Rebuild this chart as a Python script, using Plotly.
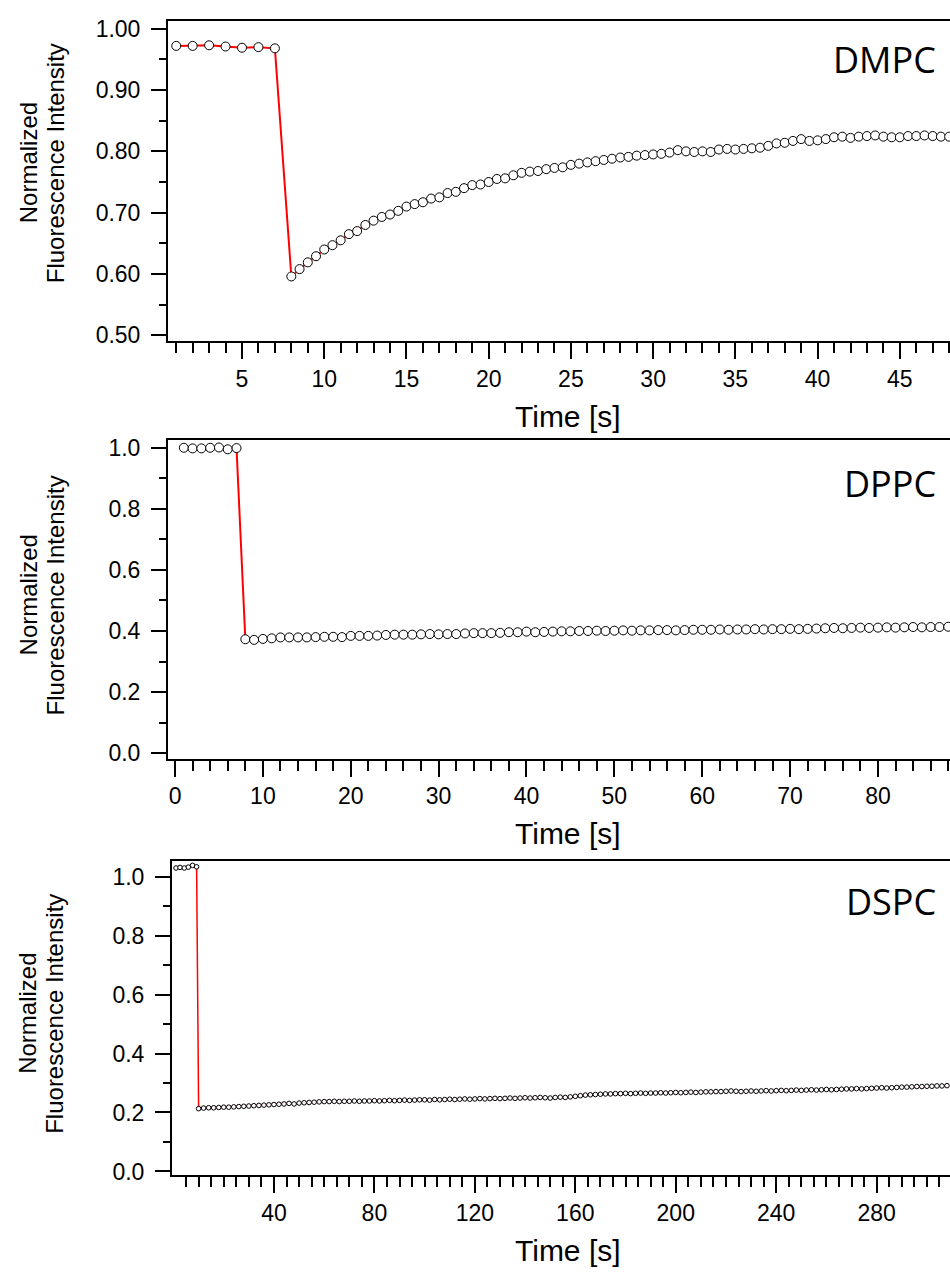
import numpy as np
import plotly.graph_objects as go

# ---------------- data ----------------
# DMPC: 1 s sampling before injection, 0.5 s after
dmpc_pre_t = [1, 2, 3, 4, 5, 6, 7]
dmpc_pre = [0.972, 0.972, 0.973, 0.971, 0.969, 0.970, 0.968]
dmpc_post_start, dmpc_post_step = 8.0, 0.5
dmpc_post = [0.596, 0.608, 0.619, 0.629, 0.640, 0.647, 0.655, 0.665, 0.670, 0.680,
             0.687, 0.693, 0.697, 0.703, 0.710, 0.714, 0.717, 0.723, 0.725, 0.732,
             0.734, 0.740, 0.745, 0.746, 0.750, 0.755, 0.756, 0.761, 0.765, 0.767,
             0.768, 0.771,
             0.773, 0.774, 0.778, 0.780, 0.782, 0.784, 0.786, 0.788, 0.790, 0.791,
             0.793, 0.794, 0.795, 0.796, 0.798, 0.802, 0.800, 0.799, 0.800, 0.799,
             0.803, 0.804, 0.803, 0.804, 0.805, 0.806, 0.809, 0.813, 0.814, 0.817,
             0.820, 0.817, 0.818, 0.820, 0.823, 0.824, 0.822, 0.824, 0.825, 0.826,
             0.824, 0.823, 0.823, 0.825, 0.825, 0.826, 0.825, 0.824, 0.824]

# DPPC: 1 s sampling
dppc_pre_t = [1, 2, 3, 4, 5, 6, 7]
dppc_pre = [1.000, 0.998, 0.998, 1.000, 1.001, 0.995, 0.999]
dppc_post_start, dppc_post_step = 8.0, 1.0
dppc_post = [0.373, 0.371, 0.374, 0.376, 0.379, 0.379, 0.379, 0.379, 0.380, 0.381,
             0.381, 0.380, 0.384, 0.384, 0.384, 0.385, 0.387, 0.388, 0.388, 0.388,
             0.389, 0.390, 0.389, 0.390, 0.390, 0.392, 0.393, 0.393, 0.393, 0.394,
             0.396, 0.396, 0.398, 0.396, 0.397,
             0.398, 0.399, 0.399, 0.400, 0.400, 0.401, 0.400, 0.401, 0.402, 0.401,
             0.402, 0.402, 0.403, 0.403, 0.402, 0.403, 0.404, 0.404, 0.404, 0.405,
             0.404, 0.405, 0.405, 0.406, 0.405, 0.406, 0.406, 0.407, 0.406, 0.407,
             0.408, 0.409, 0.410, 0.409, 0.410, 0.411, 0.410, 0.411, 0.412, 0.411,
             0.412, 0.413, 0.412, 0.413, 0.413, 0.414]

# DSPC
dspc_pre_t = [1.0, 2.6, 4.3, 5.9, 7.6, 9.2]
dspc_pre = [1.029, 1.031, 1.029, 1.032, 1.038, 1.033]
dspc_post_start, dspc_post_step = 10.0, 2.0
dspc_post = [0.213, 0.215, 0.216, 0.216, 0.217, 0.218, 0.218, 0.219, 0.220, 0.221,
             0.222, 0.223, 0.224, 0.225, 0.226, 0.227, 0.228, 0.229, 0.231, 0.229,
             0.232, 0.233, 0.234, 0.235, 0.236, 0.237, 0.237, 0.238, 0.237, 0.238,
             0.238, 0.239, 0.238, 0.239, 0.239, 0.240, 0.239, 0.240, 0.241, 0.240,
             0.241, 0.242, 0.241, 0.242, 0.243, 0.243, 0.242, 0.244, 0.243, 0.244,
             0.245, 0.244, 0.245, 0.246, 0.245, 0.246, 0.247, 0.246, 0.247, 0.248,
             0.247, 0.248, 0.249, 0.248, 0.249, 0.250, 0.249, 0.250, 0.251, 0.250,
             0.249, 0.251, 0.252, 0.251, 0.253, 0.255, 0.257, 0.259, 0.260, 0.261,
             0.262, 0.263, 0.263, 0.264, 0.264, 0.265, 0.264, 0.265, 0.266, 0.265,
             0.266, 0.266, 0.267, 0.266, 0.267, 0.268, 0.267, 0.268, 0.269, 0.268,
             0.269, 0.270, 0.270, 0.271, 0.271, 0.272, 0.273, 0.272, 0.271, 0.272,
             0.273, 0.272, 0.273, 0.274, 0.273, 0.274, 0.275, 0.274, 0.275, 0.276,
             0.275, 0.276, 0.277, 0.276, 0.277, 0.278, 0.277, 0.278, 0.279, 0.280,
             0.280, 0.281, 0.280, 0.281, 0.282, 0.283, 0.284, 0.283, 0.284, 0.285,
             0.286, 0.286, 0.287, 0.288, 0.288, 0.289, 0.289, 0.290, 0.290, 0.291]

labels = ["DMPC", "DPPC", "DSPC"]
x_title = "Time [s]"
y_title_1 = "Normalized"
y_title_2 = "Fluorescence Intensity"


def series(pre_t, pre, start, step, post):
    t_post = start + step * np.arange(len(post))
    return list(pre_t) + list(t_post), list(pre) + list(post)


sets = [
    series(dmpc_pre_t, dmpc_pre, dmpc_post_start, dmpc_post_step, dmpc_post),
    series(dppc_pre_t, dppc_pre, dppc_post_start, dppc_post_step, dppc_post),
    series(dspc_pre_t, dspc_pre, dspc_post_start, dspc_post_step, dspc_post),
]

# ---------------- layout helpers ----------------
W, H = 950, 1276


def px(x):
    return x / W


def py(y):
    return 1 - y / H


FONT = "Liberation Sans, Arial, sans-serif"
TICKFONT = dict(family=FONT, size=23, color="black")

fig = go.Figure()

marker_sizes = [9, 9, 4.6]
line_widths = [2, 2, 1.5]
for i, (t, v) in enumerate(sets):
    sfx = "" if i == 0 else str(i + 1)
    fig.add_trace(go.Scatter(
        x=t, y=v, mode="lines+markers",
        line=dict(color="#ff0000", width=line_widths[i]),
        marker=dict(symbol="circle", size=marker_sizes[i], color="white",
                    line=dict(color="black", width=1)),
        xaxis="x" + sfx, yaxis="y" + sfx, showlegend=False,
        hoverinfo="x+y",
    ))

# panel geometry (pixels): left, top, bottom
panels = [
    dict(left=168, top=16, bottom=340, xr=[0.5, 48.05], yr=[0.4903, 1.0129],
         xd=5, xmin=1, yd=0.1, ymin=0.05, yfmt=".2f", xvals=None),
    dict(left=168, top=440, bottom=762, xr=[-0.8, 88.2], yr=[-0.018, 1.0249],
         xd=10, xmin=2, yd=0.2, ymin=0.1, yfmt=".1f", xvals=None),
    dict(left=172, top=865, bottom=1183, xr=[-0.6, 309.2], yr=[-0.012, 1.0544],
         xd=40, xmin=5, yd=0.2, ymin=0.1, yfmt=".1f",
         xvals=[40, 80, 120, 160, 200, 240, 280]),
]

axis_common = dict(showline=True, linecolor="black", linewidth=2,
                   ticks="outside", tickcolor="black", tickwidth=2,
                   showgrid=False, zeroline=False, tickfont=TICKFONT)

for i, p in enumerate(panels):
    sfx = "" if i == 0 else str(i + 1)
    xa = dict(axis_common, domain=[px(p["left"]), 1.0], range=p["xr"],
              anchor="y" + sfx, ticklen=16, mirror=True)
    if p["xvals"] is None:
        xa.update(tickmode="linear", tick0=0, dtick=p["xd"],
                  minor=dict(tickmode="linear", tick0=0, dtick=p["xmin"],
                             ticks="outside", ticklen=10, tickwidth=2,
                             tickcolor="black"))
    else:
        minor_vals = [m for m in range(5, 310, 5)]
        xa.update(tickmode="array", tickvals=p["xvals"],
                  minor=dict(tickmode="array", tickvals=minor_vals,
                             ticks="outside", ticklen=10, tickwidth=2,
                             tickcolor="black"))
    ya = dict(axis_common, domain=[py(p["bottom"]), py(p["top"])], range=p["yr"],
              anchor="x" + sfx, ticklen=15, tickmode="linear", tick0=0,
              dtick=p["yd"], tickformat=p["yfmt"], ticklabelstandoff=6,
              minor=dict(tickmode="linear", tick0=0, dtick=p["ymin"],
                         ticks="outside", ticklen=7, tickwidth=2,
                         tickcolor="black"))
    fig.layout["xaxis" + sfx] = xa
    fig.layout["yaxis" + sfx] = ya

annotations = []
label_y = [55, 484, 906]
xtitle_y = [416, 838, 1259]
ytitle_c = [160, 597, 1020]
for i in range(3):
    annotations.append(dict(text=labels[i], xref="paper", yref="paper",
                            x=px(938), y=py(label_y[i]), xanchor="right",
                            yanchor="middle", showarrow=False,
                            font=dict(family="Open Sans, sans-serif", size=36,
                                      color="black")))
    annotations.append(dict(text=x_title, xref="paper", yref="paper",
                            x=px(568), y=py(xtitle_y[i]), xanchor="center",
                            yanchor="middle", showarrow=False,
                            font=dict(family=FONT, size=30, color="black")))
    annotations.append(dict(text=y_title_1, xref="paper", yref="paper",
                            x=px(28), y=py(ytitle_c[i]), xanchor="center",
                            yanchor="middle", textangle=-90, showarrow=False,
                            font=dict(family=FONT, size=24, color="black")))
    annotations.append(dict(text=y_title_2, xref="paper", yref="paper",
                            x=px(55), y=py(ytitle_c[i]), xanchor="center",
                            yanchor="middle", textangle=-90, showarrow=False,
                            font=dict(family=FONT, size=24, color="black")))

fig.update_layout(width=W, height=H, margin=dict(l=0, r=0, t=0, b=0),
                  paper_bgcolor="white", plot_bgcolor="white",
                  annotations=annotations, font=dict(family=FONT))

fig.write_html("out.html", config={"displayModeBar": False},
               post_script="document.body.style.margin='0';"
                           "document.body.style.overflow='hidden';")
